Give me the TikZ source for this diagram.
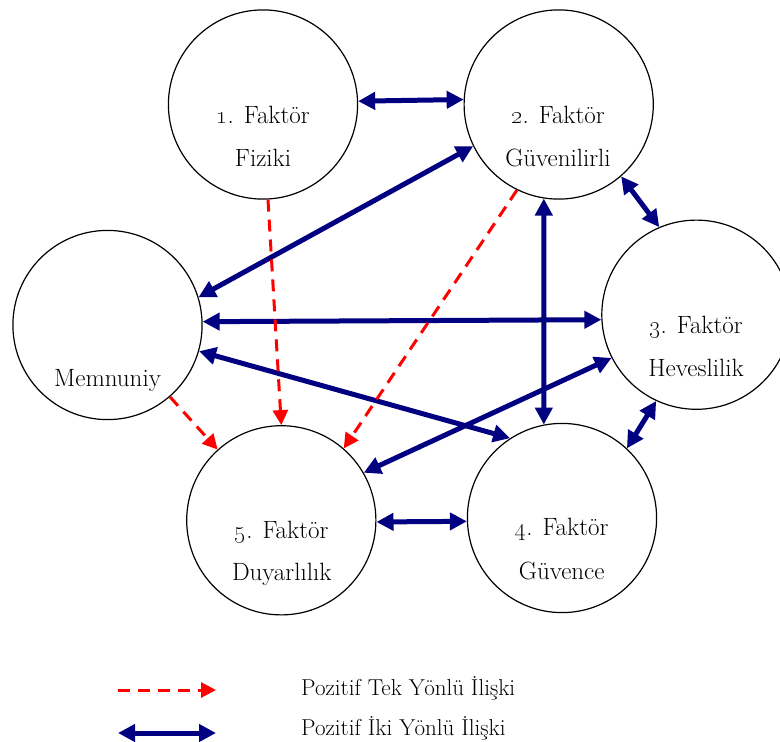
\documentclass[tikz,border=0pt]{standalone}
\usetikzlibrary{arrows.meta}
\definecolor{navyblue}{RGB}{0,0,128}
\definecolor{redline}{RGB}{255,0,0}
\begin{document}
\begin{tikzpicture}[x=1pt,y=-1pt,
 factor/.style={circle,draw=black,line width=1.2pt,minimum size=189.2pt,inner sep=0pt},
 lbl/.style={anchor=base,font=\fontsize{25}{30}\selectfont,inner sep=0pt},
 leg/.style={anchor=base west,font=\fontsize{23}{27}\selectfont,inner sep=0pt},
 two/.style={draw=navyblue,line width=5pt,{Triangle[length=17pt,width=17pt]}-{Triangle[length=17pt,width=17pt]}},
 one/.style={draw=redline,line width=3pt,dash pattern=on 12pt off 8pt,-{Triangle[length=15pt,width=15pt]}},
]
\useasboundingbox (0,0) rectangle (780,742);
% circles
\node[factor] (c1) at (263,104.5) {};
\node[factor] (c2) at (558.7,104.5) {};
\node[factor] (c3) at (696.4,314.7) {};
\node[factor] (mm) at (107.5,325) {};
\node[factor] (c5) at (281.3,520.3) {};
\node[factor] (c4) at (562,518) {};
% labels
\node[lbl] (t1a) at (263,123) {\oldstylenums{1}. Faktör};
\node[lbl] (t1b) at (263,166) {Fiziki};
\node[lbl] (t2a) at (558,123) {\oldstylenums{2}. Faktör};
\node[lbl] (t2b) at (558,166) {Güvenilirli};
\node[lbl] (t3a) at (696,333) {\oldstylenums{3}. Faktör};
\node[lbl] (t3b) at (696,376) {Heveslilik};
\node[lbl] (tm) at (107.5,386.7) {Memnuniy};
\node[lbl] (t5a) at (281.7,538) {\oldstylenums{5}. Faktör};
\node[lbl] (t5b) at (281.7,580.7) {Duyarlılık};
\node[lbl] (t4a) at (561.7,535.7) {\oldstylenums{4}. Faktör};
\node[lbl] (t4b) at (561.7,579) {Güvence};
% two-way relations
\draw[two] (c1.2.7) -- (c2.177.3);
\draw[two] (mm.17.6) -- (c2.206.3);
\draw[two] (mm.2.3) -- (c3.183.8);
\draw[two] (mm.344.1) -- (c4.123);
\draw[two] (c2.261.2) -- (c4.101.2);
\draw[two] (c2.311.2) -- (c3.113.1);
\draw[two] (c5.30.1) -- (c3.207.7);
\draw[two] (c3.245.9) -- (c4.47.3);
\draw[two] (c5.359.2) -- (c4.182.2);
% one-way relations
\draw[one] (c1.273.8) -- (c5.90.8);
\draw[one] (c2.244.4) -- (c5.49.4);
\draw[one] (mm.311.4) -- (c5.132.6);
% legend
\coordinate (l1a) at (118,690);
\coordinate (l1b) at (216,690);
\coordinate (l2a) at (118,733);
\coordinate (l2b) at (216,733);
\draw[one] (l1a) -- (l1b);
\draw[two] (l2a) -- (l2b);
\node[leg] (g1) at (301,695) {Pozitif Tek Yönlü İlişki};
\node[leg] (g2) at (301,735) {Pozitif İki Yönlü İlişki};
\end{tikzpicture}
\end{document}
